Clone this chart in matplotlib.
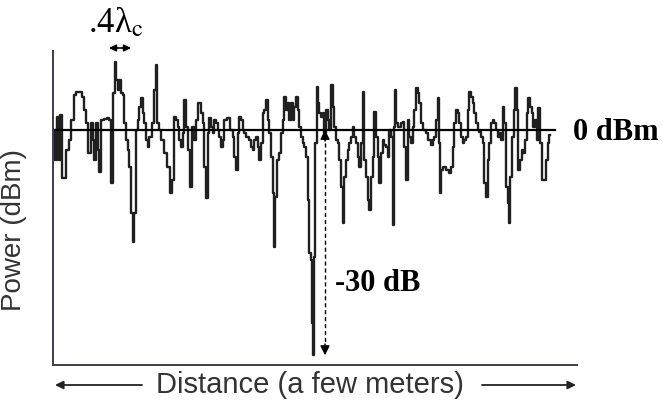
import numpy as np
import matplotlib
matplotlib.use("Agg")
from matplotlib import pyplot as plt
from matplotlib.patches import FancyArrowPatch

plt.rcParams['mathtext.fontset'] = 'stix'

# distance along the path (mm), carrier wavelength 110 mm
dist_mm = [0, 2, 6, 10, 12, 18, 24, 30, 34, 40, 44, 50, 56, 60, 64, 68, 74, 76, 80, 84,
           86, 90, 94, 100, 106, 110, 114, 118, 120, 124, 126, 130, 134, 136, 138, 144, 146, 150, 154, 156,
           160, 164, 166, 170, 174, 176, 180, 184, 186, 190, 196, 200, 202, 204, 210, 214, 220, 226, 232, 236,
           240, 244, 246, 250, 254, 256, 260, 264, 266, 272, 276, 280, 284, 288, 294, 296, 300, 304, 306, 310,
           314, 316, 320, 324, 326, 330, 334, 336, 340, 346, 354, 356, 360, 364, 366, 370, 374, 376, 380, 384,
           386, 390, 394, 396, 400, 404, 406, 410, 414, 416, 420, 424, 426, 430, 434, 436, 438, 442, 444, 450,
           454, 456, 460, 464, 466, 470, 474, 476, 480, 484, 486, 490, 494, 496, 500, 504, 506, 510, 514, 515,
           516, 518, 522, 524, 526, 530, 534, 536, 540, 544, 546, 550, 554, 556, 560, 564, 566, 570, 574, 576,
           580, 584, 586, 590, 594, 596, 600, 604, 606, 610, 614, 616, 620, 624, 626, 630, 634, 636, 640, 644,
           646, 650, 654, 656, 660, 664, 666, 670, 674, 676, 678, 680, 684, 686, 690, 694, 696, 700, 704, 706,
           710, 714, 716, 720, 724, 726, 730, 734, 736, 740, 744, 746, 750, 754, 756, 760, 764, 766, 768, 770,
           774, 776, 780, 784, 790, 794, 796, 800, 804, 806, 810, 814, 816, 820, 824, 826, 830, 834, 836, 840,
           844, 846, 850, 854, 856, 860, 864, 866, 870, 874, 876, 880, 884, 886, 890, 894, 896, 900, 904, 906,
           908, 912, 916, 918, 922, 924, 928, 932, 934, 938, 942, 944, 948, 952, 954, 958, 962, 964, 968, 972,
           974, 980, 984, 986, 990]

# received power relative to the mean level (dB)
power_db = [0, -4.0, 1.7, -4.0, 2.0, -6.4, -2.7, -1.3, 1.3, 4.7, 5.1, 5.1, 4.4, 2.7, 0.9, -3.1, 0.9, -1.3, -4.0, 0.9,
            -2.7, -5.6, 1.3, 1.5, 1.6, 1.3, -7.1, 4.9, 9.1, 6.7, 5.3, 6.7, 4.9, 4.7, 0.9, -1.3, -2.7, -4.9, -11.1, -14.9,
            -11.1, 0, 1.3, 3.1, 4.3, 2.3, 0.9, -1.3, -2.3, -0.9, 0.9, 5.3, 8.7, 0.9, 0, -1.3, -3.1, -4.9, -8.4, -6.7,
            1.7, 1.3, 0.4, -1.3, -2.3, -0.4, 4.0, 0.4, -2.7, -7.6, 0.4, -1.3, 1.3, 3.6, 2.3, 0.9, -4.9, -9.1, -0.4, 1.6,
            0.4, -0.4, 1.3, 0.9, 0, -0.9, -2.3, -1.3, 1.3, 1.6, 0, -0.9, -3.6, -5.3, -0.4, 1.7, 1.3, 0, -0.4, -0.9,
            -0.9, -1.3, -2.3, -2.7, -1.3, -0.9, -2.3, -4.0, -1.7, 2.3, 2.7, 4.0, 1.3, -0.4, -3.6, -8.4, -15.6, -8.9, -4.0, -3.1,
            -0.4, 1.3, 4.4, 2.7, 3.6, 1.3, 3.6, 1.3, 3.1, 4.4, 2.7, 0.4, -0.9, -1.7, -2.3, -3.6, -9.3, -16.4, -17.3, -25.7,
            -30.0, -16.9, -1.7, 5.7, 3.6, 2.3, 1.7, 2.3, -0.4, 2.7, 1.3, 0, 6.0, 3.1, 0.4, -1.3, -1.7, -4.0, -7.6, -12.4,
            -6.3, -4.0, -2.7, -1.7, -0.9, 0.4, -0.9, -1.7, -3.6, -4.9, -1.7, 5.1, -4.0, -6.3, -9.3, -10.7, -6.3, -3.6, 2.4, -0.9,
            -3.6, -7.1, -3.1, -1.3, -2.0, -2.3, -3.6, 0, -0.9, -12.7, 0.4, 5.3, 0.9, 0.4, 0.4, 0.9, 1.1, -2.3, -6.7, 1.3,
            -0.9, -1.7, 0.4, 2.7, 5.6, 4.9, 3.6, 0.9, 0, 0, -0.4, -1.3, -1.3, -2.0, -1.3, -0.9, 1.3, 4.3, -1.7, -8.4,
            -5.3, -4.9, -4.9, -5.3, -5.7, -4.9, -2.3, 0.9, 2.7, 2.3, 0.9, -0.9, -1.7, -1.3, -0.9, 2.7, 5.1, 4.4, 3.6, 2.3,
            0.9, 0, -0.3, -0.9, -1.7, -7.1, -8.9, -4.0, -1.7, 0.9, 1.3, 0.9, 0, -0.9, -0.4, -1.3, 3.1, 0.9, -7.6, -9.7,
            -12.4, -6.3, -0.9, 2.7, 5.6, 2.7, -5.3, -4.0, -2.7, -3.1, -1.3, 2.3, 4.3, 3.1, 2.3, 0.4, 1.3, -1.3, 2.9, -1.7,
            -6.7, -6.7, -4.0, -1.7, -0.7]

wavelength_mm = 110
mean_level = 0.0
fade_depth = -30.0

W, H = 663, 408
fig = plt.figure(figsize=(W / 100, H / 100), dpi=100)
ax = fig.add_axes([53 / W, 1 - 365 / H, 524 / W, 314 / H])

ax.plot(dist_mm, power_db, color='#202020', lw=1.7, drawstyle='steps-mid')
ax.plot([dist_mm[0], 1000], [mean_level, mean_level], color='black', lw=1.6)

ax.set_xlim(-4, 1044)
ax.set_ylim(-31.3, 10.5)
ax.set_xticks([])
ax.set_yticks([])
for s in ['top', 'right']:
    ax.spines[s].set_visible(False)
for s in ['left', 'bottom']:
    ax.spines[s].set_color('#3c3c4c')
    ax.spines[s].set_linewidth(1.4)

# fade depth marker
x_fade = 540
ax.plot([x_fade, x_fade], [mean_level - 0.8, fade_depth + 0.8], ls=(0, (3, 2)), color='black', lw=1.0)
ax.annotate('', xy=(x_fade, mean_level), xytext=(x_fade, mean_level - 1.5),
            arrowprops=dict(arrowstyle='-|>', color='black', lw=1.0, mutation_scale=14, shrinkA=0, shrinkB=0))
ax.annotate('', xy=(x_fade, fade_depth), xytext=(x_fade, fade_depth + 1.5),
            arrowprops=dict(arrowstyle='-|>', color='black', lw=1.0, mutation_scale=14, shrinkA=0, shrinkB=0))
ax.text(x_fade + 20, -20.4, '%d dB' % fade_depth, fontsize=22, fontweight='bold',
        family='Liberation Serif', va='center', ha='left')
ax.text(1036, mean_level - 0.4, '%d dBm' % mean_level, fontsize=22, fontweight='bold',
        family='Liberation Serif', va='center', ha='left', clip_on=False)

# 0.4 wavelength marker
x0 = 108
ax.annotate('', xy=(x0, 10.9), xytext=(x0 + 0.4 * wavelength_mm, 10.9),
            arrowprops=dict(arrowstyle='<|-|>', color='black', lw=1.2, mutation_scale=10,
                            shrinkA=0, shrinkB=0), annotation_clip=False)
ax.text(x0 + 0.2 * wavelength_mm - 8, 14.2, '.4λ$_{\\mathrm{c}}$', fontsize=25,
        family='Liberation Serif', ha='center', va='center', clip_on=False)

ax.set_ylabel('Power (dBm)', fontsize=20, color='#333333', family='Liberation Sans')
ax.yaxis.set_label_coords(-0.05, 0.43)

fig.text(310 / W, 1 - 385 / H, 'Distance (a few meters)', fontsize=21, color='#333333',
         family='Liberation Sans', ha='center', va='center')
arrow_kw = dict(arrowstyle='-|>', color='#222222', lw=1.3, mutation_scale=12, shrinkA=0, shrinkB=0)
fig.patches.append(FancyArrowPatch((142 / W, 1 - 385 / H), (55 / W, 1 - 385 / H),
                                   transform=fig.transFigure, **arrow_kw))
fig.patches.append(FancyArrowPatch((482 / W, 1 - 385 / H), (576 / W, 1 - 385 / H),
                                   transform=fig.transFigure, **arrow_kw))

fig.savefig('out.png', dpi=100)
